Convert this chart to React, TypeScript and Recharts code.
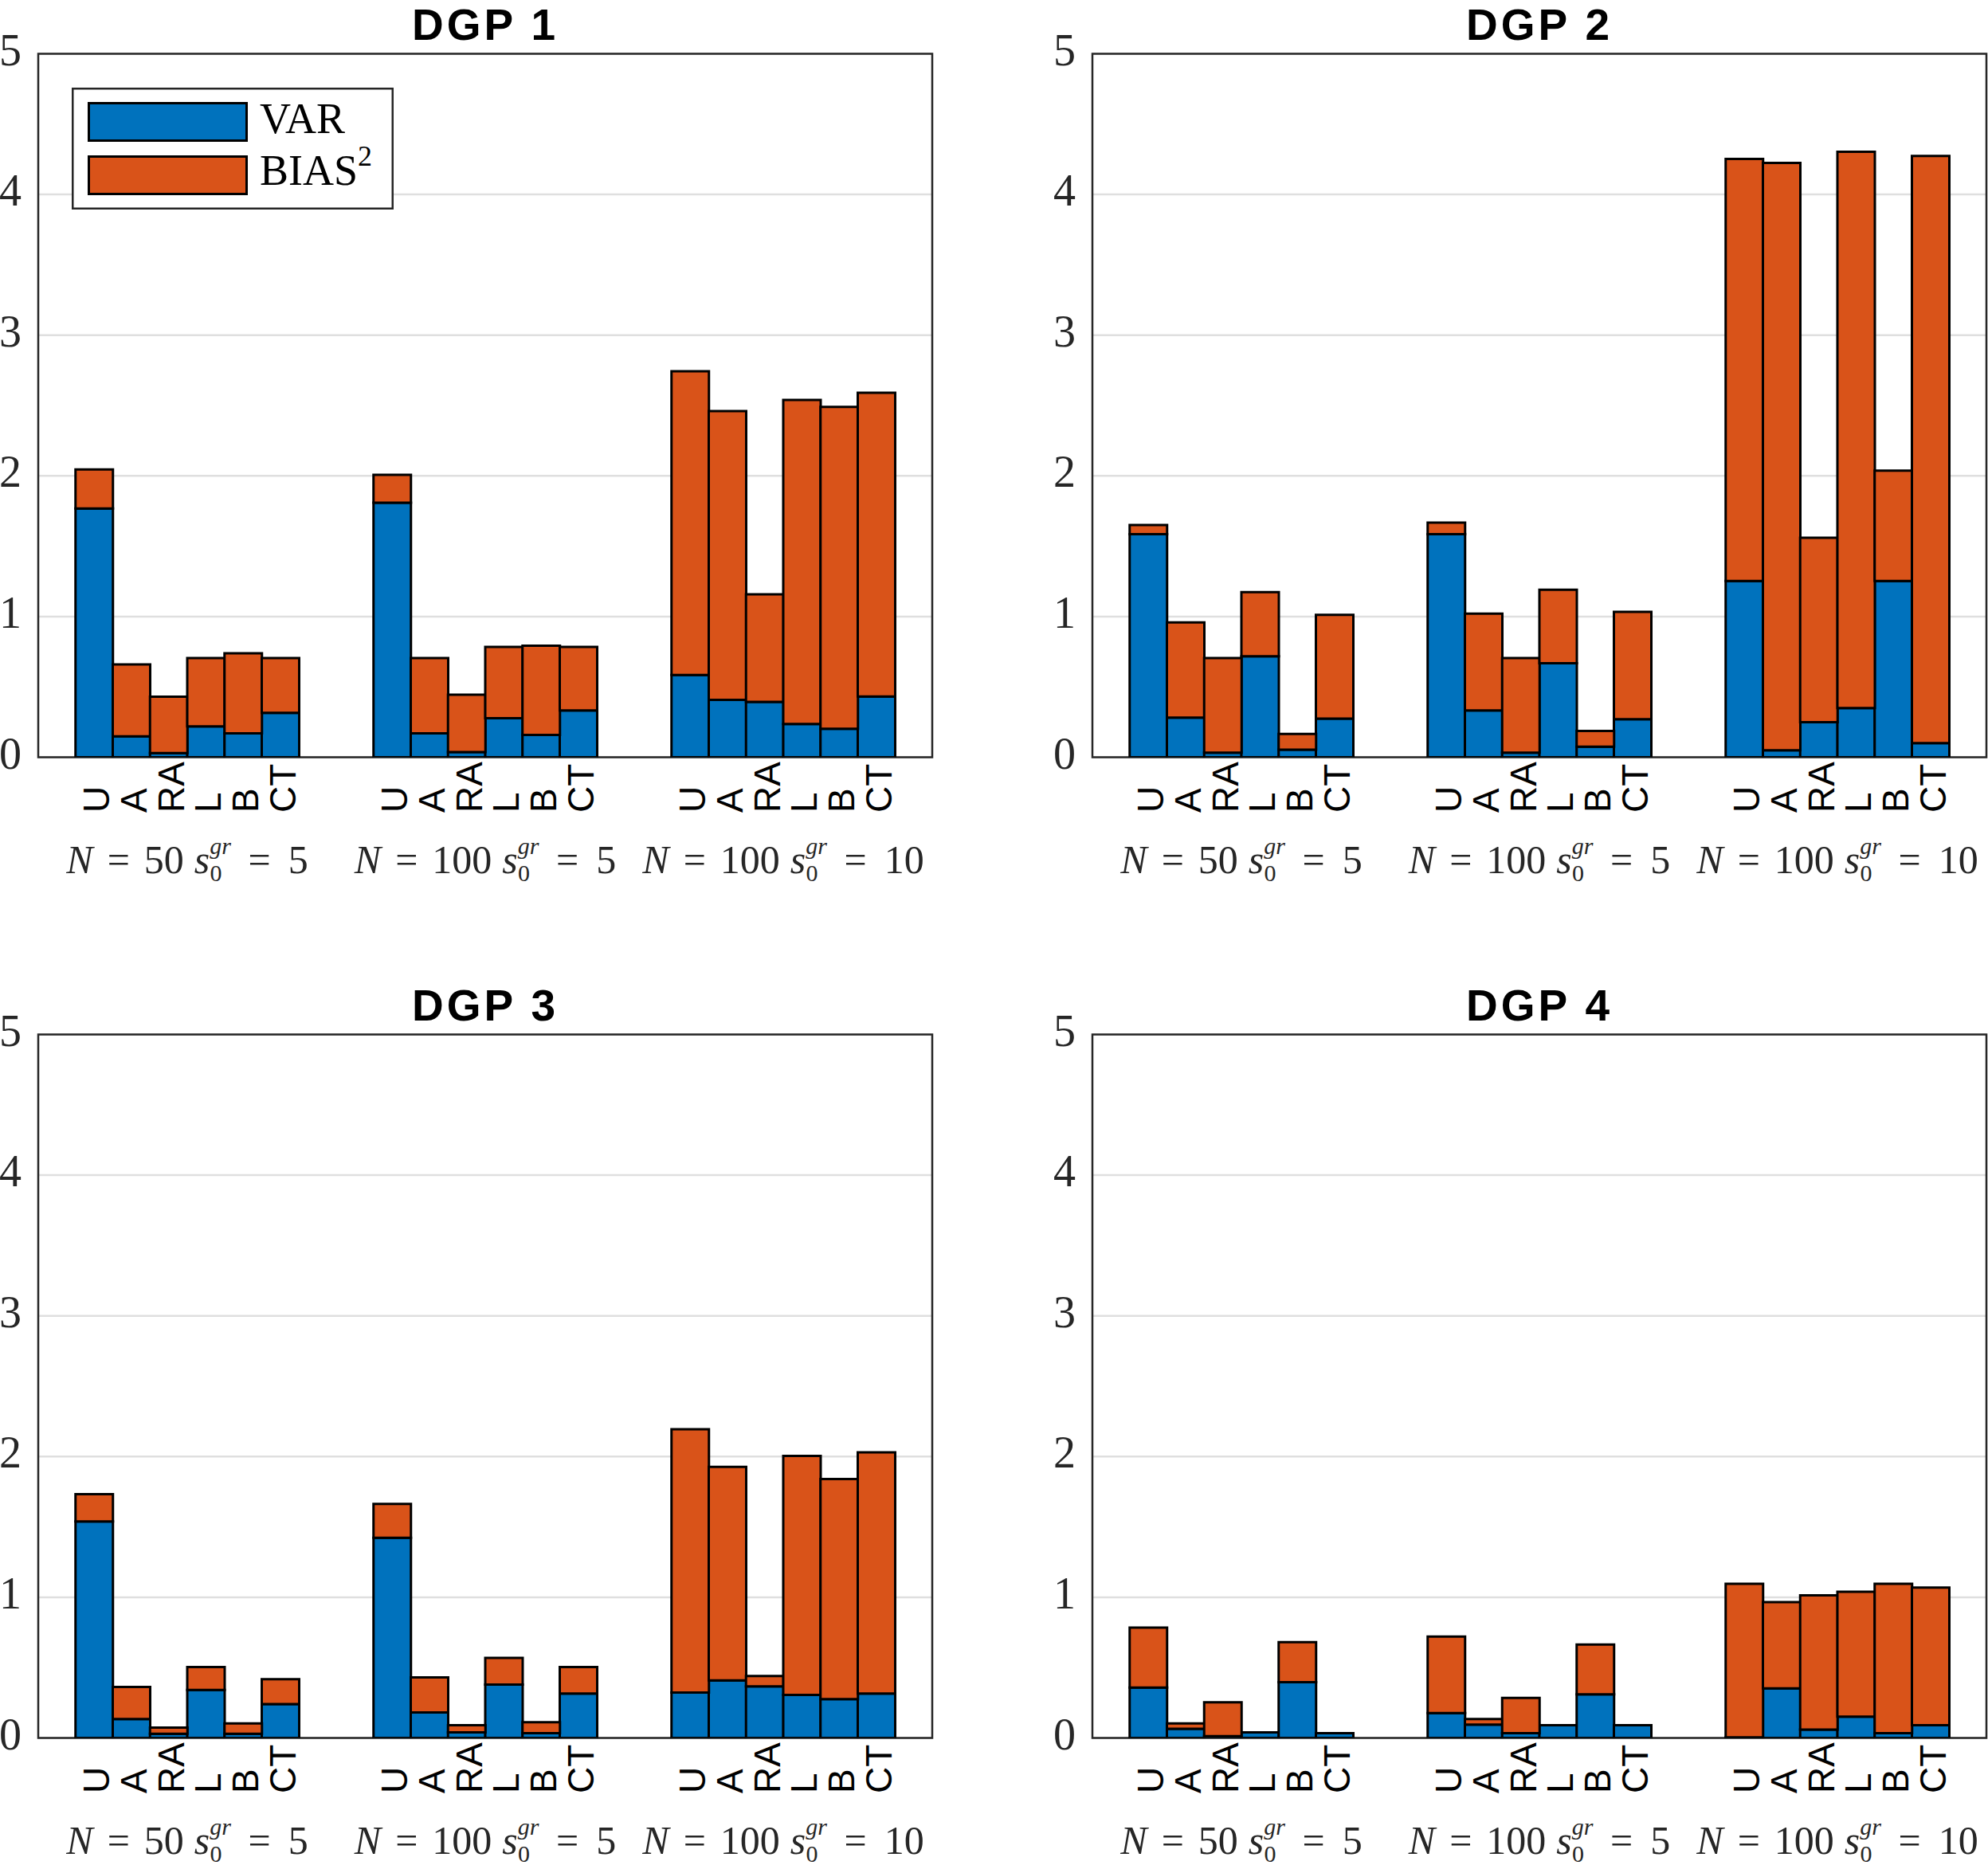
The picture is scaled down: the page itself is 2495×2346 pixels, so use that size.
import React from 'react';
import { BarChart, Bar, XAxis, YAxis, CartesianGrid, ReferenceArea, Legend } from 'recharts';

const METHODS = ['U', 'A', 'RA', 'L', 'B', 'CT'];
const GROUP_N = ['50', '100', '100'];
const GROUP_S = ['5', '5', '10'];
const TITLES = ['DGP 1', 'DGP 2', 'DGP 3', 'DGP 4'];
const Y_TICKS = [0, 1, 2, 3, 4, 5];

// values per group (N=50 s=5 | N=100 s=5 | N=100 s=10), methods U A RA L B CT
const DGP1_VAR = [1.768, 0.149, 0.03, 0.22, 0.17, 0.315, 1.809, 0.17, 0.037, 0.278, 0.158, 0.332, 0.585, 0.407, 0.394, 0.237, 0.203, 0.432];
const DGP1_BIAS2 = [0.278, 0.511, 0.4, 0.485, 0.569, 0.39, 0.199, 0.535, 0.407, 0.506, 0.635, 0.452, 2.158, 2.053, 0.764, 2.303, 2.287, 2.158];
const DGP2_VAR = [1.585, 0.282, 0.033, 0.718, 0.054, 0.274, 1.585, 0.332, 0.033, 0.668, 0.075, 0.27, 1.253, 0.05, 0.249, 0.349, 1.253, 0.1];
const DGP2_BIAS2 = [0.066, 0.676, 0.672, 0.456, 0.112, 0.738, 0.083, 0.689, 0.672, 0.523, 0.112, 0.763, 3.0, 4.174, 1.311, 3.954, 0.784, 4.174];
const DGP3_VAR = [1.539, 0.134, 0.03, 0.341, 0.03, 0.241, 1.422, 0.181, 0.039, 0.379, 0.034, 0.315, 0.323, 0.409, 0.366, 0.306, 0.276, 0.315];
const DGP3_BIAS2 = [0.194, 0.228, 0.043, 0.163, 0.073, 0.177, 0.242, 0.25, 0.051, 0.19, 0.078, 0.189, 1.871, 1.518, 0.074, 1.698, 1.564, 1.715];
const DGP4_VAR = [0.358, 0.065, 0.013, 0.039, 0.397, 0.034, 0.177, 0.095, 0.034, 0.09, 0.31, 0.09, 0.004, 0.353, 0.06, 0.151, 0.034, 0.09];
const DGP4_BIAS2 = [0.426, 0.038, 0.241, 0, 0.284, 0, 0.543, 0.039, 0.25, 0, 0.354, 0, 1.091, 0.613, 0.953, 0.888, 1.061, 0.979];

const VAR_SERIES = [DGP1_VAR, DGP2_VAR, DGP3_VAR, DGP4_VAR];
const BIAS_SERIES = [DGP1_BIAS2, DGP2_BIAS2, DGP3_BIAS2, DGP4_BIAS2];

const BLUE = '#0072BD';
const ORANGE = '#D95319';
const AXIS = '#262626';

const PLOT_LEFT = 48;
const PLOT_TOP = 67.5;
const PLOT_W = 1122;
const PLOT_H = 883;
const SLOTS = 24;
const BAND = PLOT_W / SLOTS;
const CHART_H = 1150;

const PANELS = [
  { left: 0, top: 0, width: 1250 },
  { left: 1323, top: 0, width: 1172 },
  { left: 0, top: 1231, width: 1250 },
  { left: 1323, top: 1231, width: 1172 },
];

type Row = { id: string; label: string; group: number; m: number; var: number | null; bias: number | null };

function buildRows(v: number[], b: number[]): Row[] {
  const rows: Row[] = [];
  const pad = () => rows.push({ id: `e${rows.length}`, label: '', group: -1, m: -1, var: null, bias: null });
  pad();
  for (let g = 0; g < 3; g++) {
    for (let m = 0; m < 6; m++) {
      rows.push({ id: `g${g}m${m}`, label: METHODS[m], group: g, m, var: v[g * 6 + m], bias: b[g * 6 + m] });
    }
    if (g < 2) { pad(); pad(); }
  }
  pad();
  return rows;
}

const GroupLabel = ({ cx, y, g }: { cx: number; y: number; g: number }) => (
  <text x={cx} y={y} textAnchor="middle" fontFamily="'Liberation Serif', 'Times New Roman', serif" fontSize={50} fill={AXIS}>
    <tspan fontStyle="italic">N</tspan>
    <tspan dx={18}>=</tspan>
    <tspan dx={18}>{GROUP_N[g]}</tspan>
    <tspan dx={13} fontStyle="italic">s</tspan>
    <tspan dy={-24} fontSize={30} fontStyle="italic">gr</tspan>
    <tspan dx={-26.5} dy={34} fontSize={30}>0</tspan>
    <tspan dx={33} dy={-10}>=</tspan>
    <tspan dx={22}>{GROUP_S[g]}</tspan>
  </text>
);

const makeXTick = (rows: Row[]) => (props: any) => {
  const { x, index, payload } = props;
  const row = rows.find((r) => r.id === payload?.value) || rows[index];
  if (!row || !row.label) return <g />;
  const base = PLOT_TOP + PLOT_H + 69.5;
  return (
    <g>
      <text
        transform={`translate(${x + 19},${base}) rotate(-90)`}
        textAnchor="start"
        fontFamily="'Liberation Sans', Arial, Helvetica, sans-serif"
        fontSize={46}
        fill="#000"
      >
        {row.label}
      </text>
      {row.m === 2 && <GroupLabel cx={x + BAND / 2} y={1096} g={row.group} />}
    </g>
  );
};

const YTick = (props: any) => {
  const { y, payload } = props;
  return (
    <text x={PLOT_LEFT - 21} y={y + 14} textAnchor="end" fontFamily="'Liberation Serif', 'Times New Roman', serif" fontSize={56} fill={AXIS}>
      {payload.value}
    </text>
  );
};

const LegendBox = () => (
  <svg width={404} height={153} style={{ display: 'block' }}>
    <rect x={1.25} y={1.25} width={401.5} height={150.5} fill="#fff" stroke={AXIS} strokeWidth={2.5} />
    <rect x={21.5} y={19.5} width={198} height={47} fill={BLUE} stroke="#000" strokeWidth={3} />
    <rect x={21.5} y={86.5} width={198} height={47} fill={ORANGE} stroke="#000" strokeWidth={3} />
    <text x={236} y={57} fontFamily="'Liberation Serif', 'Times New Roman', serif" fontSize={54} fill="#000">VAR</text>
    <text x={236} y={122} fontFamily="'Liberation Serif', 'Times New Roman', serif" fontSize={54} fill="#000">
      BIAS<tspan dy={-24} fontSize={36}>2</tspan>
    </text>
  </svg>
);

const Panel = ({ idx }: { idx: number }) => {
  const p = PANELS[idx];
  const rows = buildRows(VAR_SERIES[idx], BIAS_SERIES[idx]);
  const rightMargin = p.width - PLOT_LEFT - PLOT_W;
  const xAxisHeight = CHART_H - PLOT_TOP - PLOT_H;
  return (
    <div style={{ position: 'absolute', left: p.left, top: p.top, width: p.width, height: CHART_H }}>
      <BarChart
        width={p.width}
        height={CHART_H}
        data={rows}
        margin={{ top: PLOT_TOP, right: rightMargin, left: 0, bottom: 0 }}
        barCategoryGap={0}
        barGap={0}
      >
        <CartesianGrid vertical={false} stroke="#dfdfdf" strokeWidth={2.5} />
        <XAxis
          dataKey="id"
          type="category"
          interval={0}
          tickLine={false}
          axisLine={false}
          tickSize={0}
          tickMargin={0}
          height={xAxisHeight}
          tick={makeXTick(rows)}
        />
        <YAxis
          type="number"
          domain={[0, 5]}
          ticks={Y_TICKS}
          width={PLOT_LEFT}
          tickLine={false}
          axisLine={false}
          tickSize={0}
          tick={YTick}
          allowDataOverflow
        />
        <Bar dataKey="var" name="VAR" stackId="s" fill={BLUE} stroke="#000" strokeWidth={3} isAnimationActive={false} />
        <Bar dataKey="bias" name="BIAS2" stackId="s" fill={ORANGE} stroke="#000" strokeWidth={3} isAnimationActive={false} />
        <ReferenceArea y1={0} y2={5} fill="none" fillOpacity={0} stroke={AXIS} strokeWidth={2.5} ifOverflow="visible" />
        {idx === 0 && (
          <Legend
            layout="horizontal"
            verticalAlign="middle"
            align="center"
            wrapperStyle={{ left: 90, top: 110, width: 404, height: 153 }}
            content={LegendBox}
          />
        )}
      </BarChart>
    </div>
  );
};

export default function App() {
  return (
    <div style={{ position: 'absolute', left: 0, top: 0, width: 2495, height: 2346, overflow: 'hidden', background: '#fff' }}>
      {PANELS.map((_, i) => (
        <Panel key={i} idx={i} />
      ))}
      <svg width={2495} height={2346} style={{ position: 'absolute', left: 0, top: 0, pointerEvents: 'none' }}>
        {PANELS.map((p, i) => (
          <text
            key={i}
            x={p.left + PLOT_LEFT + PLOT_W / 2}
            y={p.top + 50}
            textAnchor="middle"
            fontFamily="'Liberation Sans', Arial, Helvetica, sans-serif"
            fontWeight="bold"
            fontSize={55}
            letterSpacing={4}
            fill="#000"
          >
            {TITLES[i]}
          </text>
        ))}
      </svg>
    </div>
  );
}
